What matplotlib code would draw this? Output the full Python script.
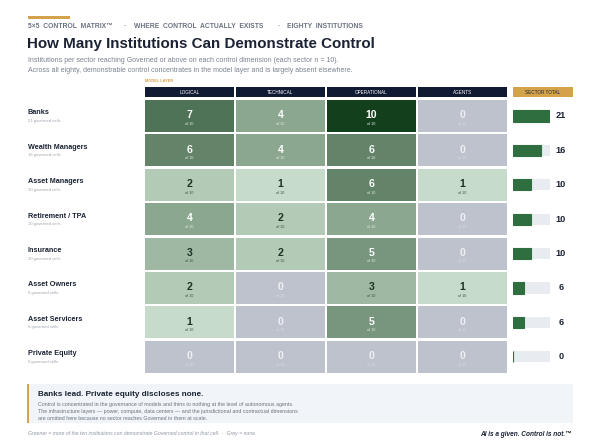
import numpy as np
import matplotlib
matplotlib.use('Agg')
import matplotlib.pyplot as plt
from matplotlib.patches import Rectangle
from matplotlib import transforms

plt.rcParams['font.family'] = ['Liberation Sans', 'DejaVu Sans']

## Data.
sectors = ['Banks', 'Wealth Managers', 'Asset Managers', 'Retirement / TPA',
           'Insurance', 'Asset Owners', 'Asset Servicers', 'Private Equity']
layers = ['LOGICAL', 'TECHNICAL', 'OPERATIONAL', 'AGENTS']

logical     = [7, 6, 2, 4, 3, 2, 1, 0]
technical   = [4, 4, 1, 2, 2, 0, 0, 0]
operational = [10, 6, 6, 4, 5, 3, 5, 0]
agents      = [0, 0, 1, 0, 0, 1, 0, 0]
per_sector  = 10

matrix = np.array([logical, technical, operational, agents]).T
totals = matrix.sum(axis=1)

## Colours.
NAVY  = '#111a33'
INK   = '#1a2233'
GOLD  = '#d4a24a'
GREEN = '#2f6e3e'
TRACK = '#e8ebef'
ZERO  = '#bec2cc'
LIGHT = np.array([198, 219, 201]) / 255
DARK  = np.array([20, 63, 29]) / 255

def cell_colour(v):
    if v == 0:
        return ZERO
    t = (v - 1) / 9
    return tuple(LIGHT + (DARK - LIGHT) * t)

W, H = 600, 440
fig = plt.figure(figsize=(6, 4.4), dpi=100)
fig.patch.set_facecolor('white')

## Overlay axes in pixel units for text and decoration.
bg = fig.add_axes([0, 0, 1, 1])
bg.set_xlim(0, W)
bg.set_ylim(H, 0)
bg.axis('off')

# matrix geometry
mx0, my0 = 145, 100
col_pitch, row_pitch = 91, 34.4
ncol, nrow = len(layers), len(sectors)

def fig_box(x0, y0, w, h):
    return [x0 / W, 1 - (y0 + h) / H, w / W, h / H]

# header strip
bg.add_patch(Rectangle((28, 16.5), 42, 2.5, color=GOLD, lw=0))
kick = dict(fontsize=4.9, color='#6b7280', fontweight='bold', va='center')
bg.text(28, 27, '5×5  CONTROL  MATRIX™', **kick)
bg.text(124, 27, '·', **kick)
bg.text(134, 27, 'WHERE  CONTROL  ACTUALLY  EXISTS', **kick)
bg.text(277, 27, '·', **kick)
bg.text(287, 27, 'EIGHTY  INSTITUTIONS', **kick)

bg.text(27, 44, 'How Many Institutions Can Demonstrate Control',
        fontsize=10.9, fontweight='bold', color=INK, va='center')
sub = dict(fontsize=5.0, color='#7b8190', va='center')
bg.text(28, 60, 'Institutions per sector reaching Governed or above on each control dimension (each sector n = 10).', **sub)
bg.text(28, 70, 'Across all eighty, demonstrable control concentrates in the model layer and is largely absent elsewhere.', **sub)

bg.text(mx0, 81, 'MODEL LAYER', fontsize=2.9, color=GOLD, fontweight='bold', va='center')

for j, name in enumerate(layers):
    x0 = mx0 + j * col_pitch
    bg.add_patch(Rectangle((x0, 87), col_pitch - 2, 10, color=NAVY, lw=0))
    bg.text(x0 + (col_pitch - 2) / 2, 92.2, name, fontsize=3.3, color='white',
            ha='center', va='center')

bg.add_patch(Rectangle((513, 87), 60, 10, color=GOLD, lw=0))
bg.text(543, 92.2, 'SECTOR TOTAL', fontsize=3.3, color=INK, ha='center', va='center')

# row labels
for i, name in enumerate(sectors):
    cy = my0 + i * row_pitch + 16
    bg.text(28, cy - 3, name, fontsize=5.2, fontweight='bold', color=INK, va='center')
    bg.text(28, cy + 5, '{} governed cells'.format(totals[i]), fontsize=3.1,
            color='#a0a5ae', va='center')

## Matrix of cells.
mat = fig.add_axes(fig_box(mx0, my0, ncol * col_pitch, nrow * row_pitch))
mat.set_xlim(0, ncol)
mat.set_ylim(nrow, 0)
mat.axis('off')
gx = 2 / col_pitch
gy = 2.4 / row_pitch
for i in range(nrow):
    for j in range(ncol):
        v = matrix[i, j]
        mat.add_patch(Rectangle((j, i), 1 - gx, 1 - gy, color=cell_colour(v), lw=0))
        if v == 0:
            num_c, sub_c = '#eef0f3', '#d8dbe1'
        elif v >= 4:
            num_c, sub_c = 'white', '#e3ece5'
        else:
            num_c, sub_c = '#1d3324', '#3d5544'
        cx = j + (1 - gx) / 2
        mat.text(cx, i + 0.44, str(v), fontsize=7.6, fontweight='bold', color=num_c,
                 ha='center', va='center')
        mat.text(cx, i + 0.69, 'of {}'.format(per_sector), fontsize=2.7, color=sub_c,
                 ha='center', va='center')

## Sector totals.
tot = fig.add_axes(fig_box(513, my0, 37, nrow * row_pitch))
tot.set_xlim(0, totals.max())
tot.set_ylim(nrow, 0)
tot.axis('off')
ypos = np.arange(nrow) + (1 - gy) / 2
tot.barh(ypos, [totals.max()] * nrow, height=0.32, color=TRACK, lw=0)
tot.barh(ypos, totals, height=0.32, color=GREEN, edgecolor=GREEN, lw=0.8)
tr = transforms.blended_transform_factory(tot.transAxes, tot.transData)
for i, v in enumerate(totals):
    tot.text(48 / 37, ypos[i], str(v), transform=tr, fontsize=6.6, fontweight='bold',
             color=INK, ha='center', va='center')

## Callout.
bg.add_patch(Rectangle((28, 384), 545, 39, color='#f1f4f8', lw=0))
bg.add_patch(Rectangle((27, 384), 2, 39, color=GOLD, lw=0))
bg.text(38, 394.5, 'Banks lead. Private equity discloses none.', fontsize=5.9,
        fontweight='bold', color=INK, va='center')
body = ['Control is concentrated in the governance of models and thins to nothing at the level of autonomous agents.',
        'The infrastructure layers — power, compute, data centers — and the jurisdictional and contractual dimensions',
        'are omitted here because no sector reaches Governed in them at scale.']
for k, line in enumerate(body):
    bg.text(38, 404.5 + k * 6.8, line, fontsize=3.78, color='#6b7280', va='center')

## Footer.
bg.text(28, 434, 'Greener = more of the ten institutions can demonstrate Governed control in that cell.  ·  Grey = none.',
        fontsize=3.7, color='#9097a1', style='italic', va='center')
bg.text(572, 434, 'AI is a given. Control is not.™', fontsize=4.7, fontweight='bold',
        style='italic', color=INK, ha='right', va='center')

fig.savefig('out.png', dpi=100)
